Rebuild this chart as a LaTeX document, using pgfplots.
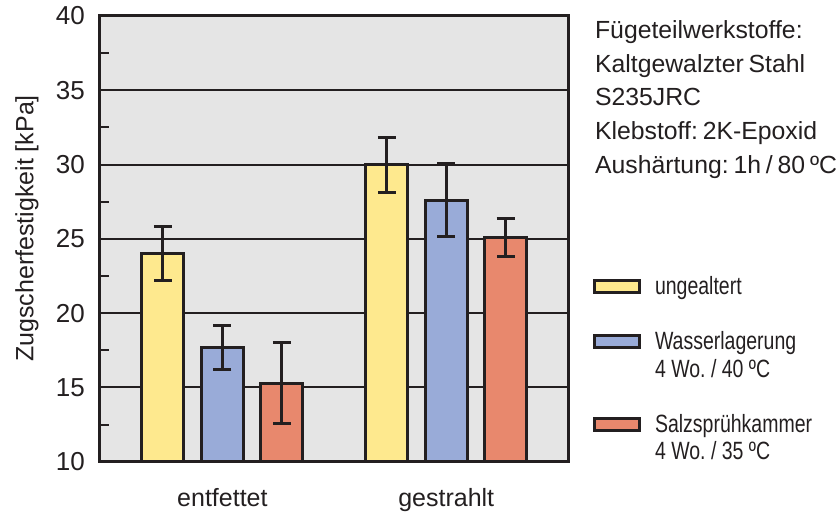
\documentclass[border=0pt]{standalone}
\usepackage{pgfplots}
\pgfplotsset{compat=1.18}
\usepackage{fontspec}
\setmainfont{Liberation Sans}
\newfontfamily\legfont[FakeStretch=0.78]{Liberation Sans}
\newfontfamily\topfont[WordSpace=0.7]{Liberation Sans}
\definecolor{cyel}{HTML}{FEE98E}
\definecolor{cblu}{HTML}{99ABD8}
\definecolor{cred}{HTML}{E8886D}
\definecolor{cbg}{HTML}{E5E5E5}
\definecolor{cdark}{HTML}{231F20}
\pgfplotsset{
  mylegend/.style={legend image code/.code={\draw[##1,line width=1.5pt,draw=cdark] (0.75pt,0.75pt) rectangle (23.25pt,6.75pt);}},
  mybar/.style={fill=#1, draw=cdark, line width=1.5pt, mylegend,
    error bars/.cd, y dir=both, y explicit,
    error bar style={line width=1.5pt, cdark},
    error mark options={rotate=90, line width=1.5pt, mark size=4.5pt, cdark}},
}
\frenchspacing
\begin{document}
\frenchspacing
\begin{tikzpicture}
\begin{axis}[
  scale only axis, width=234.5pt, height=223pt,
  xmin=-0.547, xmax=1.547, ymin=10, ymax=40,
  ybar=8.75pt, bar width=0.1875,
  xtick={0,1}, xticklabels={entfettet,gestrahlt},
  ytick={10,15,...,40},
  minor ytick={12.5,17.5,...,37.5},
  ymajorgrids,
  major grid style={cdark, line width=1pt},
  tick align=inside, tick pos=left,
  major tick length=0pt, minor tick length=4.5pt,
  minor tick style={cdark, line width=1pt},
  xtick style={draw=none},
  axis line style={cdark, line width=1.5pt},
  axis background/.style={fill=cbg},
  tick label style={font=\fontsize{13}{15}\selectfont, text=cdark},
  xticklabel style={yshift=-10pt, font=\fontsize{12.5}{15}\selectfont},
  /pgf/number format/assume math mode=true,
  yticklabel style={xshift=-4pt},
  ylabel={Zugscherfestigkeit [kPa]},
  ylabel style={at={(rel axis cs:0,0.5235)}, anchor=south, yshift=30.5pt, inner sep=0pt, font=\fontsize{12.5}{14}\selectfont, text=cdark},
  legend style={at={(rel axis cs:1,1)}, anchor=north west, xshift=12pt, yshift=-130pt,
    draw=none, fill=none, inner sep=0pt, row sep=0pt, column sep=7pt,
    cells={anchor=base west},
    nodes={inner sep=0pt, text height=9pt, text depth=4.8pt, text=cdark},
    font=\legfont\fontsize{12.5}{14}\selectfont},
]
\addplot[mybar=cyel] coordinates {(0,24.0) +- (0,1.8) (1,30.0) +- (0,1.85)};
\addlegendentry{ungealtert}
\addlegendimage{empty legend}
\addlegendentry{}
\addplot[mybar=cblu] coordinates {(0,17.7) +- (0,1.5) (1,27.6) +- (0,2.45)};
\addlegendentry{Wasserlagerung}
\addlegendimage{empty legend}
\addlegendentry{4 Wo. / 40 ºC}
\addlegendimage{empty legend}
\addlegendentry{}
\addplot[mybar=cred] coordinates {(0,15.3) +- (0,2.7) (1,25.1) +- (0,1.3)};
\addlegendentry{Salzsprühkammer}
\addlegendimage{empty legend}
\addlegendentry{4 Wo. / 35 ºC}
\coordinate (bl) at (rel axis cs:0,0);
\coordinate (tr) at (rel axis cs:1,1);
\end{axis}
\node[anchor=north west, align=left, inner sep=0pt, font=\topfont\fontsize{12.4}{16.9}\selectfont, text=cdark] at ([xshift=13pt,yshift=-2pt]tr) {Fügeteilwerkstoffe:\\Kaltgewalzter Stahl\\S235JRC\\Klebstoff: 2K-Epoxid\\Aushärtung: 1h / 80 ºC};
\path (bl) ++(-50pt,-24.5pt) rectangle ([xshift=134pt,yshift=8pt]tr);
\end{tikzpicture}
\end{document}
